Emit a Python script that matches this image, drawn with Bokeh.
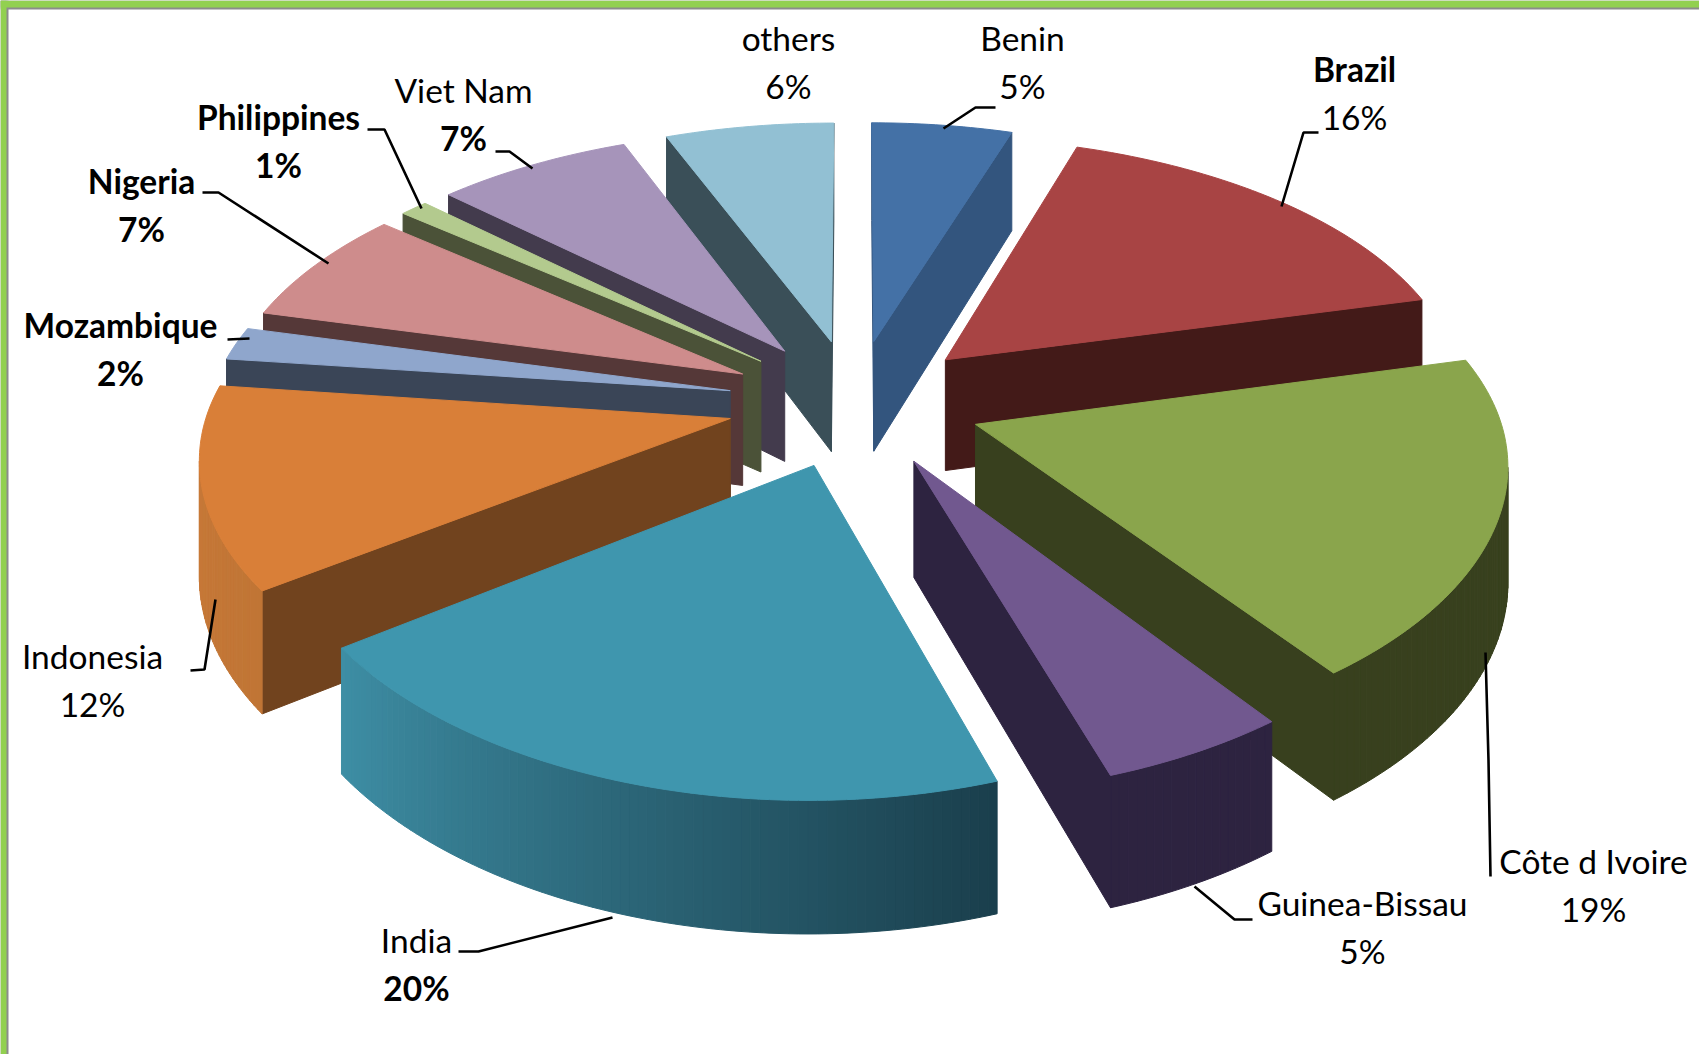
import numpy as np
from bokeh.core.properties import value
from bokeh.embed import file_html
from bokeh.models import Range1d
from bokeh.plotting import figure
from bokeh.resources import INLINE

# Cocoa-style share table, clockwise from twelve o'clock
countries = ["Benin", "Brazil", "Côte d Ivoire", "Guinea-Bissau", "India", "Indonesia",
             "Mozambique", "Nigeria", "Philippines", "Viet Nam", "others"]
shares = [5, 16, 19, 5, 20, 12, 2, 7, 1, 7, 6]

top_colors = ["#4471a6", "#a84444", "#8aa54c", "#71588f", "#3f96ae", "#d97f38",
              "#8fa6cc", "#ce8c8c", "#b3ca8e", "#a694ba", "#92c0d3"]
cut_colors = ["#33557e", "#431a18", "#38401e", "#2d2340", "#2a6070", "#71431e",
              "#3a4557", "#553838", "#4b5238", "#433b4d", "#3a4f58"]
rim_from = ["#33557e", "#431a18", "#38401e", "#2d2340", "#1a3f4c", "#c07535",
            "#3a4557", "#553838", "#4b5238", "#433b4d", "#3a4f58"]
rim_to = ["#33557e", "#431a18", "#38401e", "#2d2340", "#3e8ea5", "#cb7b3a",
          "#3a4557", "#553838", "#4b5238", "#433b4d", "#3a4f58"]

# Projection of the tilted, exploded pie onto the page
CX, CY = 854, 402
RADIUS = 520.5
TILT = 0.50
FRONT_STRETCH = 0.04
PERSPECTIVE = 0.125
EXPLODE = 0.2445
THICKNESS = 113


def project(th, r, off_x, off_y, z):
    x = off_x + r * np.sin(th)
    y = off_y - r * np.cos(th)
    f = 1 / (1 - PERSPECTIVE * y)
    stretch = 1 + FRONT_STRETCH * np.maximum(y, 0)
    return CX + RADIUS * f * x, CY + f * (RADIUS * TILT * y * stretch + z * THICKNESS)


def shoelace(xs, ys):
    xs, ys = np.asarray(xs), np.asarray(ys)
    return 0.5 * np.sum(xs * np.roll(ys, -1) - np.roll(xs, -1) * ys)


def mix(c0, c1, t):
    a = [int(c0[i:i + 2], 16) for i in (1, 3, 5)]
    b = [int(c1[i:i + 2], 16) for i in (1, 3, 5)]
    return "#%02x%02x%02x" % tuple(round(u + (v - u) * t) for u, v in zip(a, b))


edges = np.cumsum([0] + shares) / sum(shares) * 2 * np.pi
slices = []
for i in range(len(shares)):
    mid = (edges[i] + edges[i + 1]) / 2
    ox, oy = EXPLODE * np.sin(mid), -EXPLODE * np.cos(mid)
    slices.append((project(0, 0, ox, oy, 0)[1], i, ox, oy))
slices.sort()

patch_x, patch_y, patch_c = [], [], []
for _, i, ox, oy in slices:
    n = max(4, int(shares[i] * 4))
    arc = np.linspace(edges[i], edges[i + 1], n + 1)
    ax, ay = project(0, 0, ox, oy, 0)
    bx, by = project(0, 0, ox, oy, 1)
    tx, ty = project(arc, 1, ox, oy, 0)
    lx, ly = project(arc, 1, ox, oy, 1)

    # Outer rim and the two cut faces: only those turned towards the viewer
    quads = [([ax, tx[0], lx[0], bx], [ay, ty[0], ly[0], by], cut_colors[i])]
    for k in range(n):
        quads.append(([tx[k], tx[k + 1], lx[k + 1], lx[k]],
                      [ty[k], ty[k + 1], ly[k + 1], ly[k]],
                      mix(rim_from[i], rim_to[i], (k + 0.5) / n)))
    quads.append(([tx[-1], ax, bx, lx[-1]], [ty[-1], ay, by, ly[-1]], cut_colors[i]))
    for qx, qy, qc in quads:
        if shoelace(qx, qy) < 0:
            patch_x.append(list(qx))
            patch_y.append(list(qy))
            patch_c.append(qc)
    patch_x.append([ax] + list(tx))
    patch_y.append([ay] + list(ty))
    patch_c.append(top_colors[i])

p = figure(width=1699, height=1054, output_backend="svg", toolbar_location=None,
           x_range=Range1d(0, 1699), y_range=Range1d(1054, 0), min_border=0,
           background_fill_color="white", border_fill_color="white", outline_line_color=None)
p.axis.visible = False
p.grid.visible = False

# Frame along the top and left of the page
p.quad(left=[0, 0], right=[1699, 8], top=[0, 0], bottom=[9, 1054], fill_color="#8c8c8c", line_color=None)
p.quad(left=[0, 0], right=[1699, 6], top=[0, 0], bottom=[7, 1054], fill_color="#92d050", line_color=None)

p.patches(patch_x, patch_y, fill_color=patch_c, line_color=patch_c, line_width=1)

# Label centres and leader lines, in page pixels
label_pos = {
    "Benin": (1022, 37), "Brazil": (1354, 68), "Côte d Ivoire": (1593, 860),
    "Guinea-Bissau": (1362, 902), "India": (416, 939), "Indonesia": (92, 655),
    "Mozambique": (120, 324), "Nigeria": (141, 180), "Philippines": (278, 116),
    "Viet Nam": (463, 89), "others": (788, 37),
}
LINE_GAP = 48
bold_names = {"Brazil", "Philippines", "Nigeria", "Mozambique"}
bold_shares = {"Philippines", "Nigeria", "Mozambique", "India", "Viet Nam"}
leaders = [
    ([995, 975, 943], [107, 107, 128]),
    ([1318, 1303, 1281], [132, 132, 206]),
    ([1485, 1488, 1490], [652, 760, 876]),
    ([1252, 1234, 1194], [919, 919, 886]),
    ([458, 478, 612], [951, 951, 917]),
    ([190, 204, 215], [670, 669, 599]),
    ([227, 249], [339, 338]),
    ([202, 218, 328], [192, 192, 263]),
    ([367, 384, 421], [129, 129, 208]),
    ([495, 509, 532], [151, 151, 168]),
]
p.multi_line([l[0] for l in leaders], [l[1] for l in leaders], line_color="black", line_width=2.6)

for name, share in zip(countries, shares):
    x, y = label_pos[name]
    p.text([x], [y], text=[name], text_font=value("Lato"), text_font_size="33.5px",
           text_font_style="bold" if name in bold_names else "normal",
           text_align="center", text_baseline="middle", text_color="black")
    p.text([x], [y + LINE_GAP], text=[f"{share}%"], text_font=value("Lato"), text_font_size="33.5px",
           text_font_style="bold" if name in bold_shares else "normal",
           text_align="center", text_baseline="middle", text_color="black")

open("out.html", "w").write(file_html(p, INLINE))
